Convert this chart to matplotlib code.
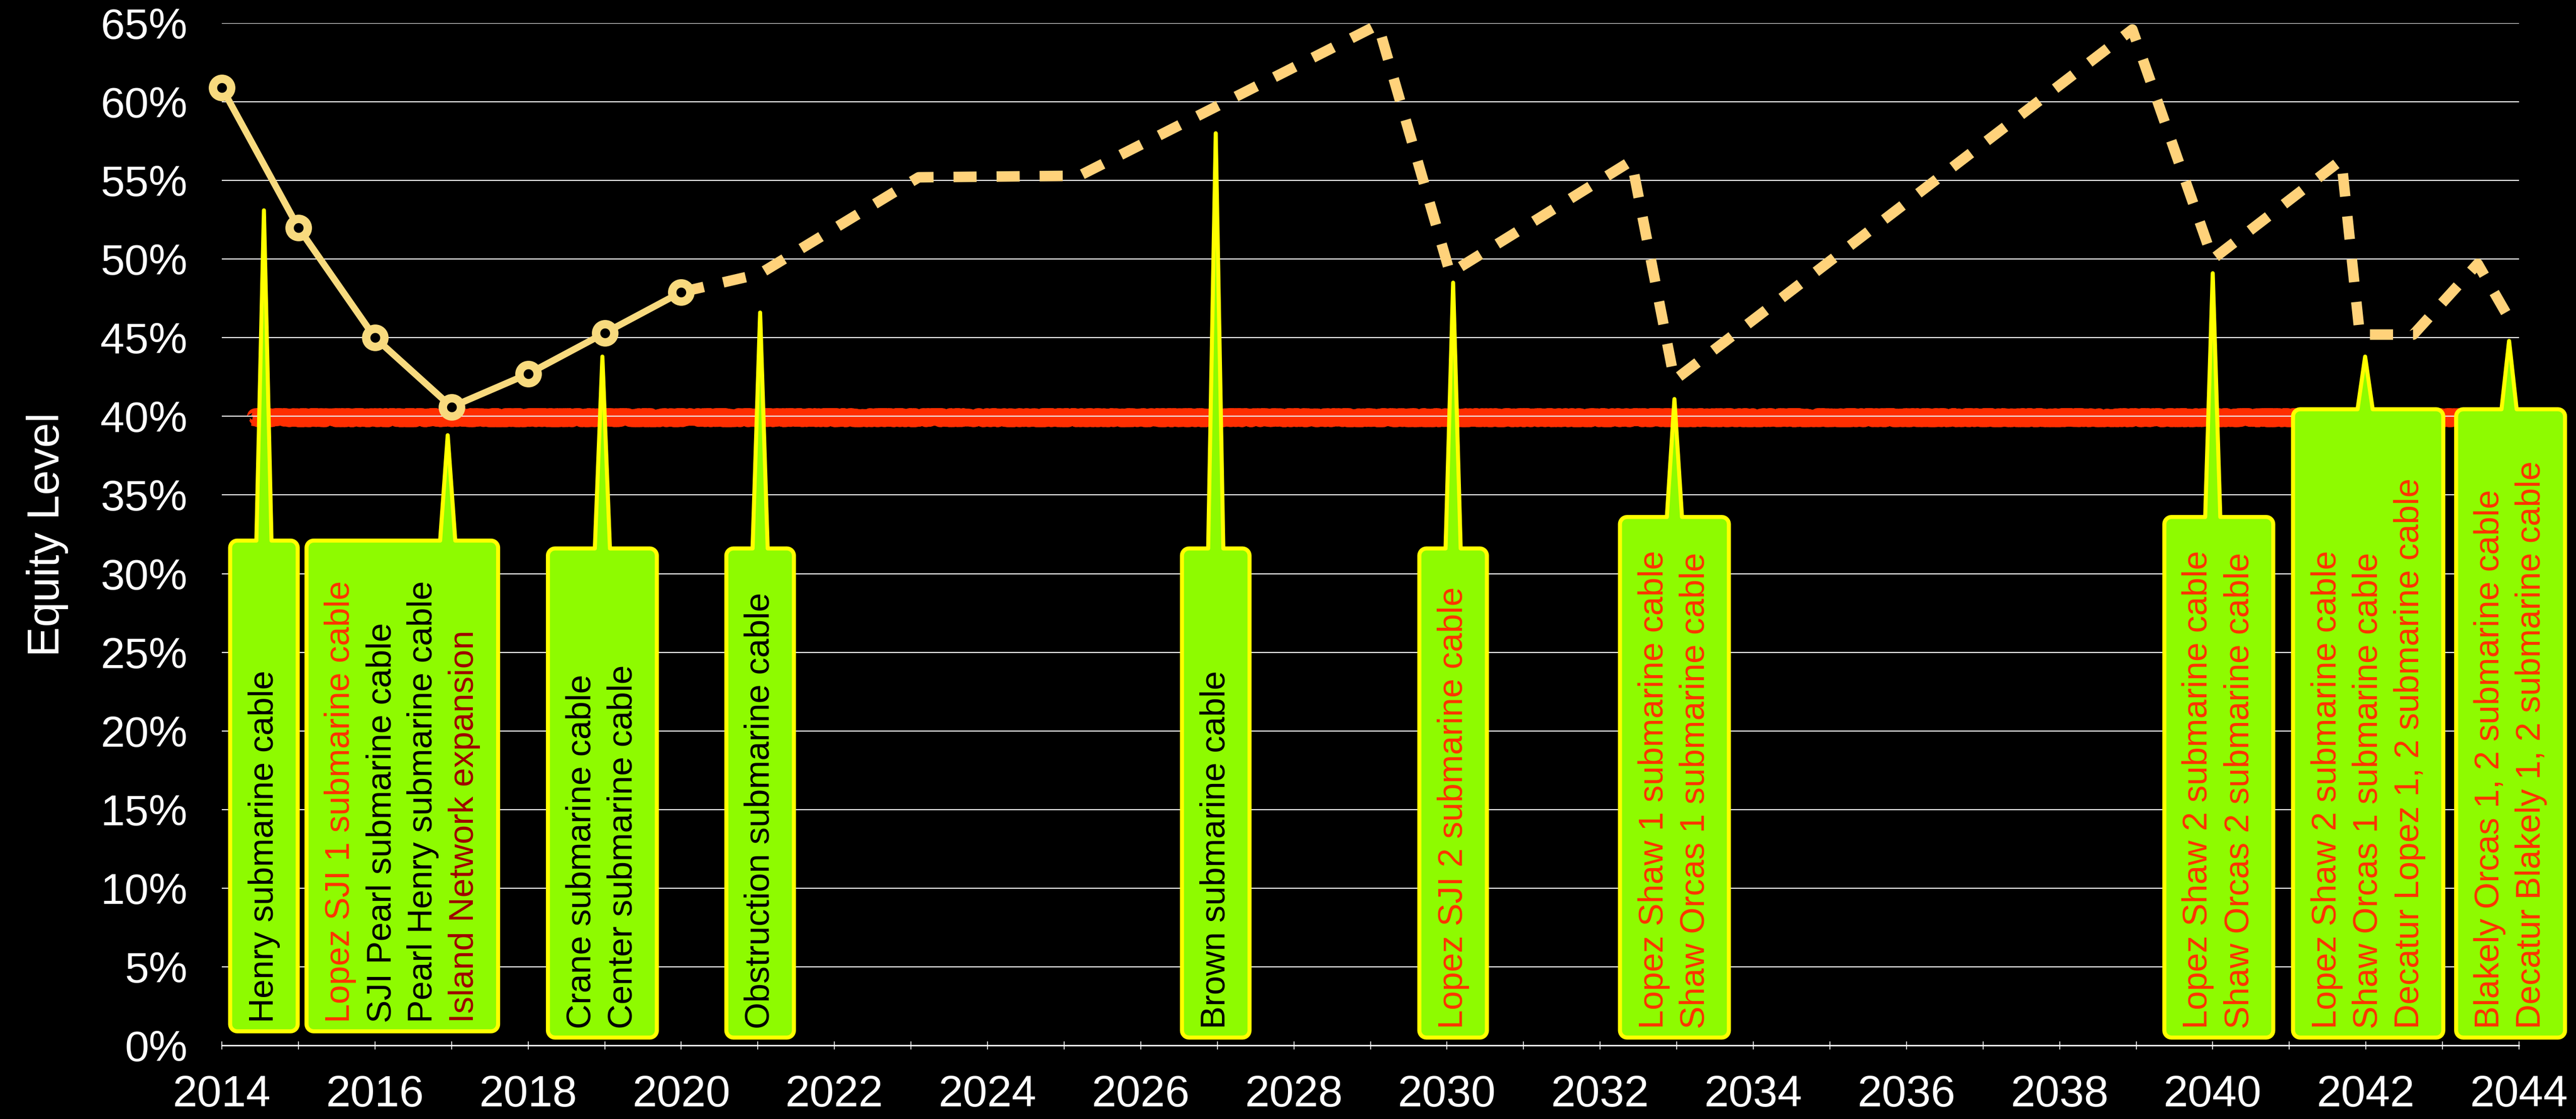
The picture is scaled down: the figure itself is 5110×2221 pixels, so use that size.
import numpy as np
import matplotlib
matplotlib.use("Agg")
import matplotlib.pyplot as plt
from matplotlib.patches import Polygon
from matplotlib.ticker import MultipleLocator, FuncFormatter


# =========================
# Data
# =========================

ACTUAL_YEARS = [2014, 2015, 2016, 2017, 2018, 2019, 2020]
ACTUAL_LEVELS = [60.9, 52.0, 45.0, 40.6, 42.7, 45.3, 47.9]

FORECAST_YEARS = [2020, 2021.02, 2023.1, 2025.2, 2029.1, 2030.04, 2032.41,
                  2032.97, 2038.95, 2040.0, 2041.68, 2041.92, 2042.62,
                  2043.46, 2043.85]
FORECAST_LEVELS = [47.9, 49.05, 55.2, 55.3, 64.9, 49.1, 56.25,
                   42.3, 64.6, 50.0, 56.3, 45.2, 45.2,
                   49.7, 46.4]

TARGET_LEVEL = 40.0
TARGET_START, TARGET_END = 2014.4, 2043.5

EVENT_YEARS = [2014.55, 2016.95, 2018.97, 2021.03, 2026.98,
               2030.08, 2032.97, 2040.0, 2041.99, 2043.87]
EVENT_LEVELS = [53.1, 38.8, 43.8, 46.6, 58.0,
                48.5, 41.1, 49.1, 43.8, 44.8]

BLACK, RED, DARK_RED = "#000000", "#FF3300", "#9E0000"
EVENT_LABELS = [
    [("Henry submarine cable", BLACK)],
    [("Lopez SJI 1 submarine cable", RED),
     ("SJI Pearl submarine cable", BLACK),
     ("Pearl Henry submarine cable", BLACK),
     ("Island Network expansion", DARK_RED)],
    [("Crane submarine cable", BLACK),
     ("Center submarine cable", BLACK)],
    [("Obstruction submarine cable", BLACK)],
    [("Brown submarine cable", BLACK)],
    [("Lopez SJI 2 submarine cable", RED)],
    [("Lopez Shaw 1 submarine cable", RED),
     ("Shaw Orcas 1 submarine cable", RED)],
    [("Lopez Shaw 2 submarine cable", RED),
     ("Shaw Orcas 2 submarine cable", RED)],
    [("Lopez Shaw 2 submarine cable", RED),
     ("Shaw Orcas 1 submarine cable", RED),
     ("Decatur Lopez 1, 2 submarine cable", RED)],
    [("Blakely Orcas 1, 2 submarine cable", RED),
     ("Decatur Blakely 1, 2 submarine cable", RED)],
]

X_MIN, X_MAX = 2014, 2044
Y_MIN, Y_MAX = 0, 65

# =========================
# Layout (pixels / axis units)
# =========================

FIG_W, FIG_H, DPI = 5110, 2221, 100
AX_LEFT, AX_RIGHT, AX_TOP, AX_BOTTOM = 440, 4997, 46, 2075   # pixels

BOX_TOPS = [32.1, 32.1, 31.6, 31.6, 31.6, 31.6, 33.6, 33.6, 40.45, 40.45]
BOX_BOTTOMS = [0.9, 0.9, 0.5, 0.5, 0.5, 0.5, 0.5, 0.5, 0.5, 0.5]
BOX_SHIFT_PX = [0, -90, 0, 0, 0, 0, 0, 12, 6, 3]
LINE_STEP_PX = 82
CORNER_PX = 14
SPIKE_HALF_PX = 15

GREEN = "#8EFB00"
YELLOW = "#FFFF00"
SOLID_COLOR = "#F8DA7E"
DASH_COLOR = "#FFD27A"
BAND_COLOR = "#FF2E00"

plt.rcParams["font.family"] = ["Liberation Sans", "DejaVu Sans"]

fig = plt.figure(figsize=(FIG_W / DPI, FIG_H / DPI), dpi=DPI, facecolor="black")
ax = fig.add_axes([
    AX_LEFT / FIG_W,
    1 - AX_BOTTOM / FIG_H,
    (AX_RIGHT - AX_LEFT) / FIG_W,
    (AX_BOTTOM - AX_TOP) / FIG_H,
])
ax.set_facecolor("black")
ax.set_xlim(X_MIN, X_MAX)
ax.set_ylim(Y_MIN, Y_MAX)

# axis units per pixel
kx = (X_MAX - X_MIN) / (AX_RIGHT - AX_LEFT)
ky = (Y_MAX - Y_MIN) / (AX_BOTTOM - AX_TOP)

# grid and axes
ax.set_axisbelow(True)
ax.yaxis.grid(True, color="#EEEEEE", linewidth=1.6)
ax.xaxis.grid(False)
for side in ("left", "right", "top"):
    ax.spines[side].set_visible(False)
ax.spines["bottom"].set_color("white")
ax.spines["bottom"].set_linewidth(1.8)

ax.yaxis.set_major_locator(MultipleLocator(5))
ax.yaxis.set_major_formatter(FuncFormatter(lambda v, _: f"{v:.0f}%"))
ax.xaxis.set_major_locator(MultipleLocator(2))
ax.xaxis.set_minor_locator(MultipleLocator(1))
ax.xaxis.set_major_formatter(FuncFormatter(lambda v, _: f"{v:.0f}"))
ax.tick_params(axis="y", length=0, pad=49, labelsize=62, labelcolor="white")
ax.tick_params(axis="x", which="both", direction="inout", length=11, width=1.2,
               color="white", labelsize=63, labelcolor="white", pad=36)

ax.set_ylabel("Equity Level", fontsize=64, color="white")
ax.yaxis.set_label_coords((136 - AX_LEFT) / (AX_RIGHT - AX_LEFT), 0.5)

# rough red target band
band, = ax.plot([TARGET_START, TARGET_END], [TARGET_LEVEL - 0.07, TARGET_LEVEL - 0.07],
                color=BAND_COLOR, linewidth=23, solid_capstyle="butt", zorder=0.2)
band.set_sketch_params(scale=3.0, length=4, randomness=25)


def corner(cx, cy, a0, a1, n=8):
    t = np.radians(np.linspace(a0, a1, n))
    return list(zip(cx + CORNER_PX * kx * np.cos(t), cy + CORNER_PX * ky * np.sin(t)))


def callout(tip_x, tip_y, center_x, top, bottom, width_px):
    left = center_x - width_px / 2 * kx
    right = center_x + width_px / 2 * kx
    rx, ry = CORNER_PX * kx, CORNER_PX * ky
    pts = []
    pts += corner(right - rx, bottom + ry, -90, 0)
    pts += corner(right - rx, top - ry, 0, 90)
    pts += [(tip_x + SPIKE_HALF_PX * kx, top), (tip_x, tip_y),
            (tip_x - SPIKE_HALF_PX * kx, top)]
    pts += corner(left + rx, top - ry, 90, 180)
    pts += corner(left + rx, bottom + ry, 180, 270)
    poly = Polygon(pts, closed=True, facecolor=GREEN, edgecolor=YELLOW,
                   linewidth=5.8, joinstyle="round", zorder=3, clip_on=False)
    ax.add_patch(poly)


for i, lines in enumerate(EVENT_LABELS):
    n = len(lines)
    cx = EVENT_YEARS[i] + BOX_SHIFT_PX[i] * kx
    width_px = 52 + LINE_STEP_PX * n
    callout(EVENT_YEARS[i], EVENT_LEVELS[i], cx, BOX_TOPS[i], BOX_BOTTOMS[i], width_px)
    for j, (txt, col) in enumerate(lines):
        x = cx + (j - (n - 1) / 2) * LINE_STEP_PX * kx
        ax.text(x, BOX_BOTTOMS[i] + 17 * ky, txt, rotation=90, ha="center",
                va="bottom", fontsize=49, color=col, zorder=4, clip_on=False)

# equity lines
ax.plot(FORECAST_YEARS, FORECAST_LEVELS, color=DASH_COLOR, linewidth=15,
        dashes=(2.2, 1.9), dash_capstyle="butt", zorder=5, clip_on=False)
ax.plot(ACTUAL_YEARS, ACTUAL_LEVELS, color=SOLID_COLOR, linewidth=9.5,
        marker="o", markersize=26, markerfacecolor="black",
        markeredgecolor=SOLID_COLOR, markeredgewidth=12, zorder=6, clip_on=False)

fig.savefig("out.png", dpi=DPI, facecolor="black")
